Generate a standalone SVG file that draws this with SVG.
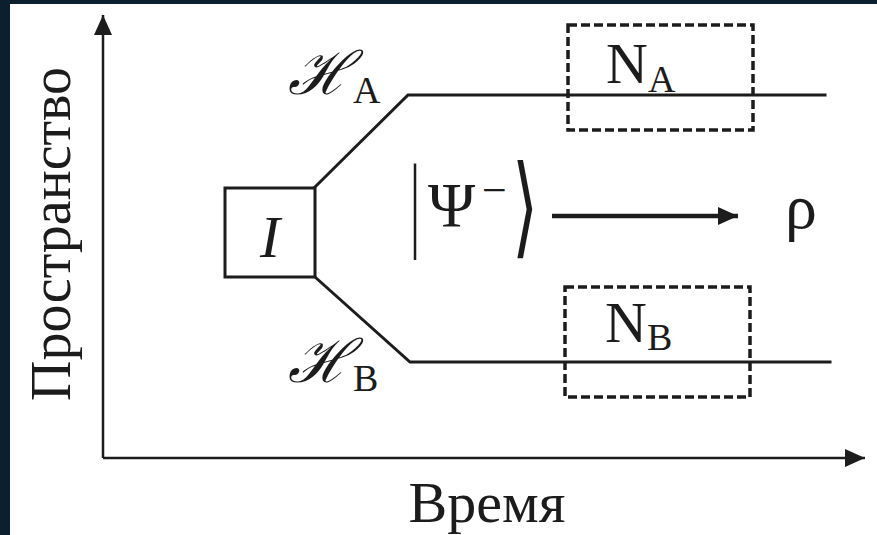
<svg xmlns="http://www.w3.org/2000/svg" width="877" height="535" viewBox="0 0 877 535">
<style>
.ln{fill:none;stroke:#1c1c1c;stroke-width:3;stroke-linecap:square}
.dash{fill:none;stroke:#1c1c1c;stroke-width:3.5;stroke-dasharray:9 4}
.t{fill:#1c1c1c;font-family:"Liberation Serif","DejaVu Serif",serif}
.h{font-family:"DejaVu Serif",serif;font-style:italic}
</style>
<defs>
<marker id="ah" viewBox="0 0 20 18" refX="20" refY="9" markerWidth="20" markerHeight="18" markerUnits="userSpaceOnUse" orient="auto">
<path d="M0,0 L20,9 L0,18 Z" fill="#1c1c1c"/>
</marker>
</defs>
<rect x="0" y="0" width="877" height="535" fill="#0b1f2e"/>
<rect x="10" y="4" width="867" height="531" fill="#ffffff"/>
<g id="axes">
<line x1="103" y1="458" x2="103" y2="15" stroke="#1c1c1c" stroke-width="2.5" marker-end="url(#ah)"/>
<line x1="103" y1="458" x2="865" y2="458" stroke="#1c1c1c" stroke-width="2.5" marker-end="url(#ah)"/>
<text class="t" font-size="56" text-anchor="middle" transform="translate(70,234) rotate(-90)">Пространство</text>
<text class="t" font-size="58" x="487" y="522" text-anchor="middle">Время</text>
</g>
<g id="connectors">
<polyline class="ln" points="315,187 408,95 825,95"/>
<polyline class="ln" points="315,277 410,362 830,362"/>
<line x1="552" y1="216" x2="738" y2="216" stroke="#1c1c1c" stroke-width="4.5" marker-end="url(#ah)"/>
</g>
<g id="source">
<rect class="ln" x="225" y="188" width="90" height="89"/>
<text class="t" font-size="60" font-style="italic" x="270" y="257" text-anchor="middle">I</text>
</g>
<g id="label-HA">
<text class="t" x="288" y="94"><tspan class="h" font-size="60">ℋ</tspan><tspan font-size="38" dx="2" dy="9">A</tspan></text>
</g>
<g id="label-HB">
<text class="t" x="288" y="382"><tspan class="h" font-size="60">ℋ</tspan><tspan font-size="38" dx="2" dy="9">B</tspan></text>
</g>
<g id="NA">
<rect class="dash" x="568" y="25" width="185" height="105"/>
<text class="t" x="606" y="83"><tspan font-size="58">N</tspan><tspan font-size="38" dy="9">A</tspan></text>
</g>
<g id="NB">
<rect class="dash" x="565" y="287" width="185" height="110"/>
<text class="t" x="605" y="342"><tspan font-size="58">N</tspan><tspan font-size="38" dy="8">B</tspan></text>
</g>
<g id="state">
<text class="t" font-size="50" transform="translate(410,237) scale(1,2.1)">|</text>
<text class="t" font-size="64" x="428" y="227">Ψ</text>
<text class="t" font-size="44" x="482" y="205">−</text>
<text class="t" font-family="DejaVu Sans, sans-serif" font-size="48" transform="translate(512,244) scale(1.4,2.3)">⟩</text>
</g>
<g id="rho">
<text class="t" font-size="64" x="785" y="228">ρ</text>
</g>
</svg>
